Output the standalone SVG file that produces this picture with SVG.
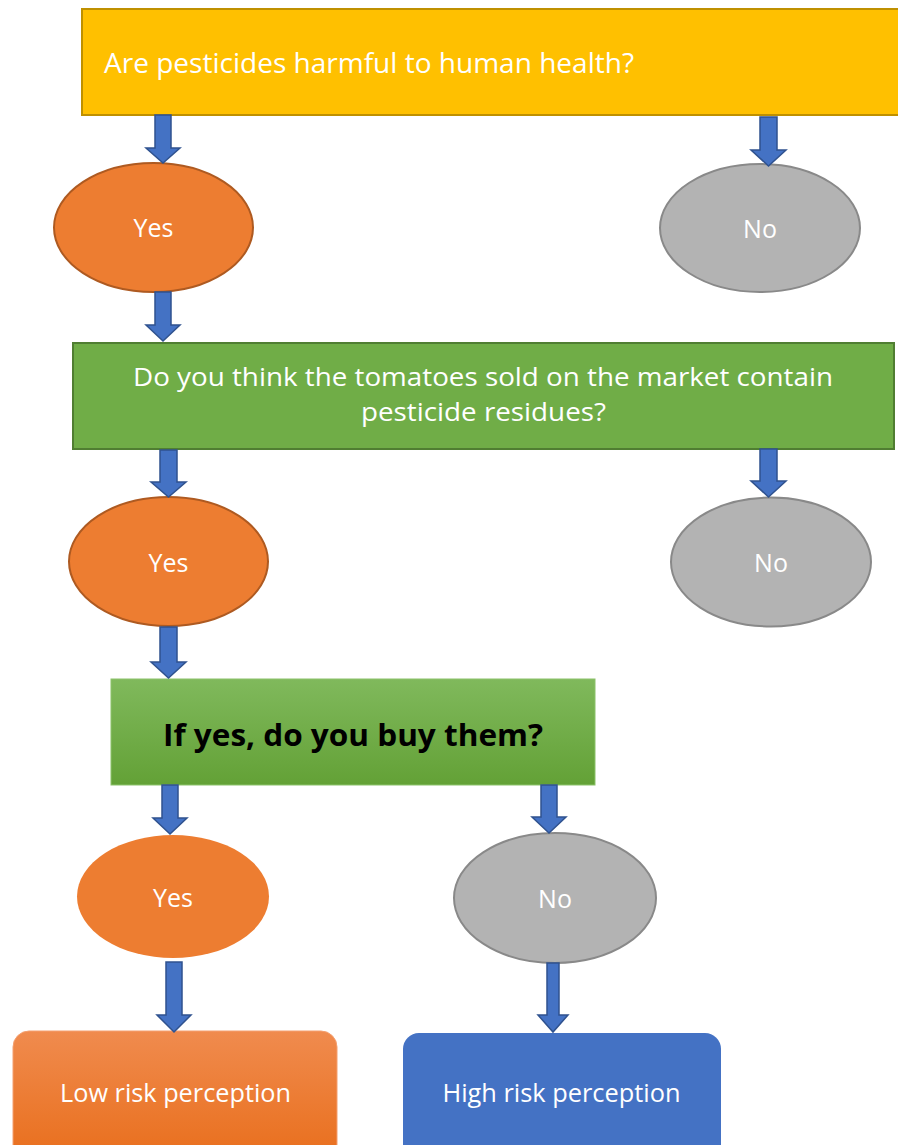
<svg xmlns="http://www.w3.org/2000/svg" width="898" height="1145" viewBox="0 0 898 1145">
<defs>
<linearGradient id="gGreen" x1="0" y1="0" x2="0" y2="1">
<stop offset="0" stop-color="#80B95C"/><stop offset="1" stop-color="#63A136"/>
</linearGradient>
<linearGradient id="gOrange" x1="0" y1="0" x2="0" y2="1">
<stop offset="0" stop-color="#F08B4E"/><stop offset="1" stop-color="#E86C18"/>
</linearGradient>
</defs>
<style>
text{font-family:"Open Sans","Noto Sans","Liberation Sans",sans-serif;fill:#fff;text-anchor:middle}
.yes{fill:#ED7D31;stroke:#AE5A21;stroke-width:2}
.no{fill:#B3B3B3;stroke:#898989;stroke-width:2}
.arr{fill:#4472C4;stroke:#2F528F;stroke-width:1.5}
.lbl{font-size:25px}
</style>
<rect width="898" height="1145" fill="#fff"/>
<g id="q1">
<rect x="82" y="9" width="830" height="106" fill="#FFC000" stroke="#BF9000" stroke-width="2"/>
<text x="104" y="73" font-size="27" style="text-anchor:start" textLength="530" lengthAdjust="spacingAndGlyphs">Are pesticides harmful to human health?</text>
</g>
<g id="yes1"><ellipse class="yes" cx="153.5" cy="227.5" rx="99.5" ry="64.5"/><text class="lbl" x="153.5" y="237">Yes</text></g>
<g id="no1"><ellipse class="no" cx="760" cy="228" rx="100" ry="64"/><text class="lbl" x="760" y="238">No</text></g>
<g id="q2">
<rect x="73" y="343" width="821" height="106" fill="#70AD47" stroke="#507E32" stroke-width="2"/>
<text x="483" y="386" font-size="26" textLength="700" lengthAdjust="spacingAndGlyphs">Do you think the tomatoes sold on the market contain</text>
<text x="483.5" y="421" font-size="26" textLength="245" lengthAdjust="spacingAndGlyphs">pesticide residues?</text>
</g>
<g id="yes2"><ellipse class="yes" cx="168.5" cy="561.5" rx="99.5" ry="64.5"/><text class="lbl" x="168.5" y="572">Yes</text></g>
<g id="no2"><ellipse class="no" cx="771" cy="562" rx="100" ry="64.5"/><text class="lbl" x="771" y="572">No</text></g>
<g id="q3">
<rect x="111" y="679" width="484" height="106" fill="url(#gGreen)" stroke="#8CC26A" stroke-width="1"/>
<text x="353" y="746" font-size="31" font-weight="bold" style="fill:#000" textLength="380" lengthAdjust="spacingAndGlyphs">If yes, do you buy them?</text>
</g>
<g id="yes3"><ellipse cx="173" cy="896.5" rx="96" ry="61.5" fill="#ED7D31"/><text class="lbl" x="173" y="907">Yes</text></g>
<g id="no3"><ellipse class="no" cx="555" cy="898" rx="101" ry="65"/><text class="lbl" x="555" y="908">No</text></g>
<g id="low">
<rect x="13" y="1031" width="324" height="140" rx="16" fill="url(#gOrange)" stroke="#F4A070" stroke-width="1"/>
<text x="175.5" y="1102" font-size="25" textLength="231" lengthAdjust="spacingAndGlyphs">Low risk perception</text>
</g>
<g id="high">
<rect x="403" y="1033" width="318" height="140" rx="16" fill="#4472C4"/>
<text x="561.5" y="1102" font-size="25" textLength="238" lengthAdjust="spacingAndGlyphs">High risk perception</text>
</g>
<g id="connectors">
<polygon class="arr" points="155,115 171,115 171,148 180,148 163,163 146,148 155,148"/>
<polygon class="arr" points="760,117 777,117 777,150 786,150 768.5,166 751,150 760,150"/>
<polygon class="arr" points="155,292 171,292 171,325 180,325 163,341 146,325 155,325"/>
<polygon class="arr" points="160,450 177,450 177,482 186,482 168.5,497 151,482 160,482"/>
<polygon class="arr" points="760,449 777,449 777,481 786,481 768.5,497 751,481 760,481"/>
<polygon class="arr" points="160,627 177,627 177,662 186,662 168.5,678 151,662 160,662"/>
<polygon class="arr" points="162,785 178,785 178,818 187,818 170,834 153,818 162,818"/>
<polygon class="arr" points="541,785 557,785 557,817 566,817 549,833 532,817 541,817"/>
<polygon class="arr" points="166,962 182,962 182,1015 191,1015 174,1032 157,1015 166,1015"/>
<polygon class="arr" points="547,963 559,963 559,1015 568,1015 553,1032 538,1015 547,1015"/>
</g>
</svg>
